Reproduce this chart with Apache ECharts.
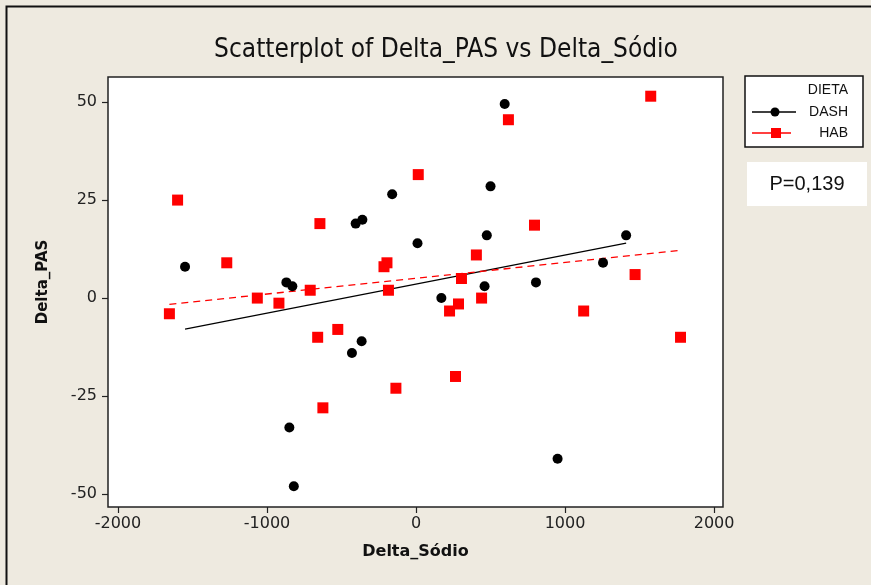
<!DOCTYPE html>
<html>
<head>
<meta charset="utf-8">
<script src="https://cdn.jsdelivr.net/npm/echarts@6/dist/echarts.min.js"></script>
<style>html,body{margin:0;padding:0;background:#EEEAE0;}#c{width:871px;height:585px;}</style>
</head>
<body>
<div id="c"></div>
<script>
// ---- data ----
const titleText = 'Scatterplot of Delta_PAS vs Delta_Sódio';
const xName = 'Delta_Sódio';
const yName = 'Delta_PAS';
const legendTitle = 'DIETA';
const groupNames = ['DASH', 'HAB'];
const pText = 'P=0,139';

const xTicks = [-2000, -1000, 0, 1000, 2000];
const yTicks = [-50, -25, 0, 25, 50];

const dashX = [-1550, -870, -830, -405, -360, -160, 10, 595, 500, 475, 1410, 1255, 460, 805, 170, 950, -365, -430, -850, -820];
const dashY = [8, 4, 3, 19, 20, 26.5, 14, 49.5, 28.5, 16, 16, 9, 3, 4, 0, -41, -11, -14, -33, -48];

const habX = [-1600, -1270, -645, -710, -1065, -215, -195, -185, 15, 620, 1575, 795, 405, 305, 440, 285, 225, 1125, 1775, 265, -135, 1470, -1655, -920, -660, -525, -625];
const habY = [25, 9, 19, 2, 0, 8, 9, 2, 31.5, 45.5, 51.5, 18.6, 11, 5, 0, -1.5, -3.3, -3.3, -10, -20, -23, 6, -4, -1.3, -10, -8, -28];

// fitted regression lines (end points)
const dashFitX = [-1550, 1410];
const dashFitY = [-7.9, 14.0];
const habFitX = [-1655, 1775];
const habFitY = [-1.6, 12.2];

// ---- chart ----
const zip = (xs, ys) => xs.map((x, i) => [x, ys[i]]);
const chart = echarts.init(document.getElementById('c'));
const G = {left: 108, top: 77, width: 615, height: 430};
const tickFont = {fontFamily: 'DejaVu Sans', fontSize: 16, color: '#222', formatter: v => String(v)};

const legendItems = [];
const lx = 745, ly = 76;
legendItems.push({type: 'rect', shape: {x: lx, y: ly, width: 118, height: 71}, style: {fill: '#fff', stroke: '#111', lineWidth: 1.5}});
legendItems.push({type: 'text', style: {x: 848, y: 90, text: legendTitle, align: 'right', verticalAlign: 'middle', font: '14px "Liberation Sans"', fill: '#111'}});
const legColors = ['#000', '#ff0000'];
groupNames.forEach((n, i) => {
  const yy = 112 + i * 21;
  legendItems.push({type: 'line', shape: {x1: 752, y1: yy, x2: i ? 791 : 796, y2: yy}, style: {stroke: legColors[i], lineWidth: 1.3}});
  if (i === 0) legendItems.push({type: 'circle', shape: {cx: 775, cy: yy, r: 4.5}, style: {fill: '#000'}});
  else legendItems.push({type: 'rect', shape: {x: 771, y: yy - 5, width: 10, height: 10}, style: {fill: '#ff0000'}});
  legendItems.push({type: 'text', style: {x: 848, y: yy, text: n, align: 'right', verticalAlign: 'middle', font: '14px "Liberation Sans"', fill: '#111'}});
});
legendItems.push({type: 'rect', shape: {x: 747, y: 162, width: 120, height: 44}, style: {fill: '#fff'}});
legendItems.push({type: 'text', style: {x: 807, y: 184, text: pText, align: 'center', verticalAlign: 'middle', font: '20px "Liberation Sans"', fill: '#111'}});
legendItems.push({type: 'rect', shape: {x: 6.5, y: 6.5, width: 900, height: 700}, style: {fill: 'none', stroke: '#111', lineWidth: 2}});
legendItems.push({type: 'text', rotation: Math.PI / 2, x: 43, y: 282, style: {x: 0, y: 0, text: yName, align: 'center', verticalAlign: 'middle', font: 'bold 15px "DejaVu Sans"', fill: '#111'}});

chart.setOption({
  backgroundColor: '#EEEAE0',
  animation: false,
  title: {text: titleText, left: 441, top: 32, textAlign: 'center',
    textStyle: {fontFamily: 'DejaVu Sans Condensed', fontWeight: 'normal', fontSize: 26, color: '#111'}},
  grid: Object.assign({show: true, backgroundColor: '#fff', borderColor: '#222', borderWidth: 1.5}, G),
  xAxis: {type: 'value', min: -2067, max: 2060, name: xName, nameLocation: 'middle', nameGap: 37,
    nameTextStyle: {fontFamily: 'DejaVu Sans', fontWeight: 'bold', fontSize: 16, color: '#111'},
    splitLine: {show: false}, axisLine: {show: false, onZero: false},
    axisTick: {show: true, length: 6, lineStyle: {color: '#222', width: 1.2}, customValues: xTicks},
    axisLabel: Object.assign({margin: 9, customValues: xTicks}, tickFont)},
  yAxis: {type: 'value', min: -53.3, max: 56.4,
    splitLine: {show: false}, axisLine: {show: false, onZero: false},
    axisTick: {show: true, length: 6, lineStyle: {color: '#222', width: 1.2}, customValues: yTicks},
    axisLabel: Object.assign({margin: 11, customValues: yTicks}, tickFont)},
  graphic: legendItems,
  series: [
    {type: 'line', data: zip(dashFitX, dashFitY), showSymbol: false, symbol: 'none', lineStyle: {color: '#000', width: 1.3}, silent: true, z: 2},
    {type: 'line', data: zip(habFitX, habFitY), showSymbol: false, symbol: 'none', lineStyle: {color: '#ff0000', width: 1.3, type: [7, 5]}, silent: true, z: 2},
    {name: groupNames[0], type: 'scatter', data: zip(dashX, dashY), symbol: 'circle', symbolSize: 10, itemStyle: {color: '#000', opacity: 1}, z: 3},
    {name: groupNames[1], type: 'scatter', data: zip(habX, habY), symbol: 'rect', symbolSize: 11, itemStyle: {color: '#ff0000', opacity: 1}, z: 3}
  ]
});
</script>
</body>
</html>
